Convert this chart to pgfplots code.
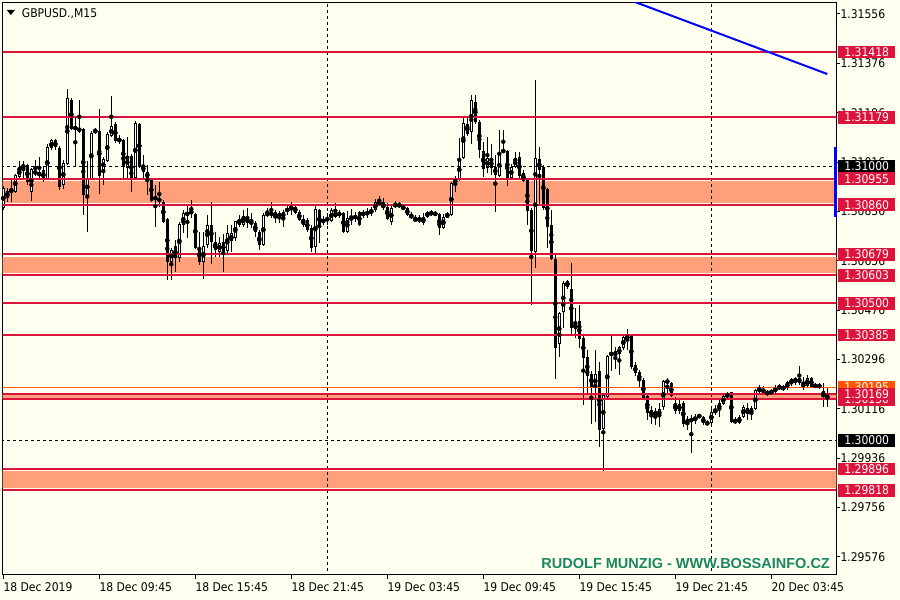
\documentclass[border=0pt]{standalone}
\usepackage{pgfplots}
\pgfplotsset{compat=1.18}
\usepackage{pgfplotstable}
\usepackage{fontspec}
\usetikzlibrary{backgrounds,calc}
\newfontfamily\mtfont{DejaVu Sans Condensed}
\newfontfamily\wmfont{Liberation Sans}
\newcommand{\mt}{\mtfont\fontsize{12pt}{14pt}\selectfont}
\definecolor{ivory}{RGB}{255,255,240}
\definecolor{crim}{RGB}{220,20,60}
\definecolor{zone}{RGB}{255,160,122}
\definecolor{orng}{RGB}{255,85,0}
\definecolor{wm}{RGB}{25,135,95}

\pgfplotstableread{
i o h l c
0 1.30848 1.30928 1.30841 1.30921
1 1.30885 1.30921 1.30870 1.30910
2 1.30914 1.30950 1.30870 1.30914
3 1.30907 1.30972 1.30903 1.30969
4 1.30961 1.31023 1.30958 1.30997
5 1.30997 1.31023 1.30961 1.31005
6 1.31005 1.31012 1.30935 1.30943
7 1.30907 1.30994 1.30873 1.30990
8 1.30983 1.31023 1.30965 1.30976
9 1.30965 1.31034 1.30958 1.30980
10 1.30987 1.30997 1.30943 1.30950
11 1.30954 1.31081 1.30950 1.31070
12 1.31067 1.31100 1.31060 1.31096
13 1.31096 1.31100 1.31063 1.31070
14 1.31067 1.31074 1.30914 1.30924
15 1.30932 1.31023 1.30917 1.31012
16 1.31008 1.31282 1.31005 1.31250
17 1.31242 1.31250 1.31133 1.31136
18 1.31136 1.31180 1.30997 1.31147
19 1.31140 1.31242 1.31122 1.31129
20 1.31136 1.31140 1.30823 1.30896
21 1.30892 1.31019 1.30761 1.30958
22 1.30954 1.31129 1.30950 1.31122
23 1.31126 1.31140 1.31118 1.31133
24 1.31129 1.31209 1.30899 1.30965
25 1.30987 1.31034 1.30932 1.31027
26 1.31019 1.31126 1.31016 1.31118
27 1.31111 1.31257 1.31107 1.31147
28 1.31154 1.31162 1.31085 1.31092
29 1.31104 1.31115 1.31081 1.31089
30 1.31096 1.31100 1.30958 1.30997
31 1.30994 1.31107 1.30958 1.31038
32 1.31038 1.31045 1.30907 1.30958
33 1.30958 1.31165 1.30954 1.31158
34 1.31154 1.31158 1.30994 1.30997
35 1.31005 1.31042 1.30958 1.30980
36 1.30980 1.31005 1.30896 1.30958
37 1.30954 1.30958 1.30873 1.30877
38 1.30877 1.30932 1.30778 1.30892
39 1.30885 1.30946 1.30855 1.30873
40 1.30870 1.30877 1.30793 1.30797
41 1.30808 1.30815 1.30589 1.30654
42 1.30651 1.30702 1.30586 1.30698
43 1.30709 1.30731 1.30615 1.30666
44 1.30666 1.30797 1.30651 1.30793
45 1.30786 1.30841 1.30757 1.30830
46 1.30830 1.30855 1.30739 1.30826
47 1.30834 1.30877 1.30812 1.30834
48 1.30826 1.30830 1.30698 1.30702
49 1.30702 1.30761 1.30640 1.30651
50 1.30651 1.30761 1.30589 1.30709
51 1.30716 1.30823 1.30705 1.30789
52 1.30786 1.30870 1.30647 1.30724
53 1.30724 1.30761 1.30669 1.30695
54 1.30688 1.30742 1.30669 1.30720
55 1.30724 1.30753 1.30615 1.30688
56 1.30691 1.30786 1.30677 1.30757
57 1.30727 1.30789 1.30688 1.30757
58 1.30739 1.30804 1.30731 1.30800
59 1.30808 1.30823 1.30778 1.30786
60 1.30786 1.30841 1.30778 1.30819
61 1.30815 1.30851 1.30775 1.30793
62 1.30793 1.30830 1.30775 1.30800
63 1.30793 1.30800 1.30742 1.30761
64 1.30761 1.30768 1.30695 1.30713
65 1.30713 1.30830 1.30709 1.30823
66 1.30830 1.30851 1.30815 1.30823
67 1.30834 1.30873 1.30812 1.30823
68 1.30815 1.30841 1.30793 1.30834
69 1.30830 1.30837 1.30793 1.30812
70 1.30812 1.30841 1.30782 1.30834
71 1.30834 1.30862 1.30823 1.30851
72 1.30855 1.30870 1.30823 1.30844
73 1.30855 1.30862 1.30826 1.30830
74 1.30834 1.30841 1.30800 1.30804
75 1.30808 1.30823 1.30782 1.30786
76 1.30804 1.30812 1.30761 1.30768
77 1.30775 1.30786 1.30688 1.30705
78 1.30705 1.30859 1.30684 1.30844
79 1.30841 1.30844 1.30720 1.30775
80 1.30797 1.30819 1.30786 1.30808
81 1.30804 1.30830 1.30786 1.30812
82 1.30800 1.30848 1.30797 1.30841
83 1.30834 1.30866 1.30812 1.30815
84 1.30834 1.30841 1.30812 1.30819
85 1.30830 1.30834 1.30757 1.30761
86 1.30761 1.30837 1.30757 1.30812
87 1.30812 1.30844 1.30786 1.30812
88 1.30812 1.30834 1.30797 1.30819
89 1.30834 1.30837 1.30782 1.30786
90 1.30823 1.30841 1.30812 1.30834
91 1.30826 1.30848 1.30812 1.30834
92 1.30834 1.30851 1.30819 1.30841
93 1.30841 1.30881 1.30834 1.30870
94 1.30873 1.30892 1.30859 1.30862
95 1.30862 1.30885 1.30841 1.30848
96 1.30855 1.30866 1.30804 1.30808
97 1.30797 1.30855 1.30789 1.30848
98 1.30855 1.30873 1.30848 1.30862
99 1.30862 1.30870 1.30848 1.30855
100 1.30855 1.30862 1.30841 1.30844
101 1.30848 1.30851 1.30819 1.30823
102 1.30823 1.30834 1.30808 1.30815
103 1.30812 1.30823 1.30797 1.30800
104 1.30800 1.30823 1.30793 1.30812
105 1.30793 1.30830 1.30786 1.30815
106 1.30815 1.30837 1.30812 1.30834
107 1.30826 1.30841 1.30819 1.30834
108 1.30834 1.30837 1.30819 1.30823
109 1.30826 1.30830 1.30750 1.30775
110 1.30775 1.30826 1.30771 1.30815
111 1.30815 1.30834 1.30812 1.30830
112 1.30823 1.30943 1.30819 1.30939
113 1.30935 1.30965 1.30907 1.30958
114 1.30950 1.31104 1.30946 1.31027
115 1.31031 1.31177 1.31027 1.31158
116 1.31154 1.31177 1.31111 1.31118
117 1.31126 1.31261 1.31081 1.31242
118 1.31235 1.31261 1.31154 1.31162
119 1.31165 1.31169 1.31031 1.31060
120 1.31056 1.31089 1.30961 1.30990
121 1.30994 1.31107 1.30976 1.31031
122 1.31027 1.31081 1.30969 1.30994
123 1.30997 1.31042 1.30834 1.30969
124 1.30965 1.31133 1.30961 1.31045
125 1.31053 1.31133 1.31049 1.31060
126 1.31056 1.31060 1.30928 1.30958
127 1.30958 1.31008 1.30950 1.31001
128 1.30997 1.31053 1.30994 1.31031
129 1.31034 1.31053 1.30950 1.30965
130 1.30976 1.30987 1.30943 1.30946
131 1.30950 1.30958 1.30786 1.30837
132 1.30841 1.30848 1.30495 1.30691
133 1.30688 1.31315 1.30629 1.31031
134 1.31027 1.31070 1.30862 1.30987
135 1.30997 1.31008 1.30841 1.30848
136 1.30917 1.30924 1.30702 1.30778
137 1.30786 1.30841 1.30658 1.30662
138 1.30662 1.30677 1.30224 1.30338
139 1.30352 1.30469 1.30304 1.30465
140 1.30469 1.30582 1.30411 1.30575
141 1.30582 1.30586 1.30553 1.30560
142 1.30556 1.30647 1.30381 1.30411
143 1.30407 1.30484 1.30374 1.30429
144 1.30436 1.30495 1.30338 1.30370
145 1.30374 1.30381 1.30130 1.30301
146 1.30304 1.30330 1.30169 1.30235
147 1.30242 1.30253 1.30060 1.30195
148 1.30192 1.30330 1.30068 1.30242
149 1.30253 1.30287 1.29976 1.30038
150 1.30042 1.30173 1.29888 1.30166
151 1.30158 1.30312 1.30155 1.30308
152 1.30312 1.30381 1.30253 1.30323
153 1.30308 1.30341 1.30261 1.30327
154 1.30315 1.30345 1.30239 1.30341
155 1.30338 1.30389 1.30330 1.30378
156 1.30374 1.30407 1.30330 1.30378
157 1.30385 1.30389 1.30264 1.30268
158 1.30276 1.30287 1.30235 1.30246
159 1.30250 1.30257 1.30192 1.30217
160 1.30221 1.30228 1.30148 1.30155
161 1.30162 1.30166 1.30075 1.30100
162 1.30111 1.30126 1.30060 1.30093
163 1.30107 1.30119 1.30057 1.30089
164 1.30089 1.30137 1.30049 1.30115
165 1.30122 1.30221 1.30111 1.30217
166 1.30221 1.30228 1.30166 1.30210
167 1.30210 1.30213 1.30158 1.30162
168 1.30137 1.30158 1.30097 1.30107
169 1.30133 1.30148 1.30097 1.30107
170 1.30137 1.30144 1.30049 1.30060
171 1.30060 1.30089 1.30038 1.30078
172 1.30068 1.30093 1.29954 1.30082
173 1.30075 1.30097 1.30060 1.30086
174 1.30086 1.30097 1.30082 1.30093
175 1.30086 1.30089 1.30057 1.30064
176 1.30068 1.30075 1.30053 1.30060
177 1.30064 1.30115 1.30057 1.30107
178 1.30100 1.30130 1.30093 1.30115
179 1.30111 1.30148 1.30086 1.30137
180 1.30133 1.30169 1.30130 1.30162
181 1.30158 1.30177 1.30151 1.30173
182 1.30177 1.30177 1.30064 1.30068
183 1.30078 1.30086 1.30060 1.30064
184 1.30064 1.30093 1.30060 1.30086
185 1.30089 1.30130 1.30082 1.30122
186 1.30119 1.30137 1.30075 1.30097
187 1.30097 1.30126 1.30075 1.30119
188 1.30115 1.30188 1.30111 1.30184
189 1.30195 1.30203 1.30173 1.30177
190 1.30188 1.30199 1.30166 1.30177
191 1.30177 1.30184 1.30162 1.30169
192 1.30173 1.30188 1.30169 1.30180
193 1.30177 1.30203 1.30169 1.30195
194 1.30192 1.30206 1.30184 1.30199
195 1.30188 1.30203 1.30180 1.30195
196 1.30192 1.30217 1.30184 1.30213
197 1.30206 1.30228 1.30199 1.30224
198 1.30213 1.30232 1.30203 1.30228
199 1.30228 1.30272 1.30203 1.30210
200 1.30213 1.30232 1.30184 1.30192
201 1.30199 1.30239 1.30192 1.30228
202 1.30228 1.30235 1.30192 1.30195
203 1.30203 1.30210 1.30192 1.30195
204 1.30203 1.30210 1.30188 1.30195
205 1.30180 1.30210 1.30122 1.30162
206 1.30166 1.30195 1.30122 1.30158
}\candles

\tikzset{plab/.style={anchor=west, inner sep=0pt, minimum width=57pt, minimum height=12.6pt, text=white, font=\mt}}

\begin{document}
\begin{tikzpicture}
\begin{axis}[name=ax, scale only axis, width=833.6pt, height=572.3pt,
  xmin=-0.15, xmax=208.25, ymin=1.295094, ymax=1.315972,
  axis line style={black, line width=1pt},
  tick align=outside, major tick length=4pt, tick style={black, line width=1pt},
  xtick pos=left, xticklabel pos=left, ytick pos=right, yticklabel pos=right,
  xtick={0,24,48,72,96,120,144,168,192},
  xticklabels={18 Dec 2019,18 Dec 09:45,18 Dec 15:45,18 Dec 21:45,19 Dec 03:45,19 Dec 09:45,19 Dec 15:45,19 Dec 21:45,20 Dec 03:45},
  xticklabel style={anchor=north west, inner sep=0pt, font=\mt, yshift=-3pt},
  ytick={1.29576,1.29756,1.29936,1.30116,1.30296,1.30476,1.30656,1.30836,1.31016,1.31196,1.31376,1.31556},
  yticklabels={1.29576,1.29756,1.29936,1.30116,1.30296,1.30476,1.30656,1.30836,1.31016,1.31196,1.31376,1.31556},
  yticklabel style={anchor=west, inner sep=0pt, font=\mt},
  clip=true]
% zones
\addplot[fill=zone, draw=none] coordinates {(-5,1.30947) (215,1.30947) (215,1.30868) (-5,1.30868)} -- cycle;
\addplot[fill=zone, draw=none] coordinates {(-5,1.30671) (215,1.30671) (215,1.30611) (-5,1.30611)} -- cycle;
\addplot[fill=zone, draw=none] coordinates {(-5,1.30169) (215,1.30169) (215,1.30150) (-5,1.30150)} -- cycle;
\addplot[fill=zone, draw=none] coordinates {(-5,1.29888) (215,1.29888) (215,1.29826) (-5,1.29826)} -- cycle;
% period separators
\addplot[black, line width=0.8pt, dash pattern=on 3pt off 3pt] coordinates {(81,1.29) (81,1.32)};
\addplot[black, line width=0.8pt, dash pattern=on 3pt off 3pt] coordinates {(177,1.29) (177,1.32)};
% candles: wicks, bodies, white inner for bullish
\addplot[only marks, mark=none, error bars/.cd, y dir=both, y explicit, error mark=none,
  error bar style={draw=black, line width=1pt, solid}]
  table[x=i, y expr={(\thisrow{h}+\thisrow{l})/2}, y error expr={(\thisrow{h}-\thisrow{l})/2}] {\candles};
\addplot[only marks, mark=none, error bars/.cd, y dir=both, y explicit, error mark=none,
  error bar style={draw=black, line width=3pt, solid}]
  table[x=i, y expr={(\thisrow{o}+\thisrow{c})/2}, y error expr={max(abs(\thisrow{o}-\thisrow{c})/2,0.000016)}] {\candles};
\addplot[only marks, mark=none, error bars/.cd, y dir=both, y explicit, error mark=none,
  error bar style={draw=white, line width=1pt, solid}]
  table[x=i, y expr={(\thisrow{o}+\thisrow{c})/2}, y error expr={max((\thisrow{c}-\thisrow{o})/2-0.0000365,0)}] {\candles};
% level lines
\addplot[crim, line width=2pt] coordinates {(-5,1.31418) (215,1.31418)};
\addplot[crim, line width=2pt] coordinates {(-5,1.31179) (215,1.31179)};
\addplot[crim, line width=2pt] coordinates {(-5,1.30955) (215,1.30955)};
\addplot[crim, line width=2pt] coordinates {(-5,1.30860) (215,1.30860)};
\addplot[crim, line width=2pt] coordinates {(-5,1.30679) (215,1.30679)};
\addplot[crim, line width=2pt] coordinates {(-5,1.30603) (215,1.30603)};
\addplot[crim, line width=2pt] coordinates {(-5,1.30500) (215,1.30500)};
\addplot[crim, line width=2pt] coordinates {(-5,1.30385) (215,1.30385)};
\addplot[orng, line width=1pt] coordinates {(-5,1.30195) (215,1.30195)};
\addplot[crim, line width=2pt] coordinates {(-5,1.30169) (215,1.30169)};
\addplot[crim, line width=2pt] coordinates {(-5,1.30150) (215,1.30150)};
\addplot[crim, line width=2pt] coordinates {(-5,1.29896) (215,1.29896)};
\addplot[crim, line width=2pt] coordinates {(-5,1.29818) (215,1.29818)};
\addplot[black, line width=0.8pt, dash pattern=on 3pt off 3pt] coordinates {(-5,1.31000) (215,1.31000)};
\addplot[black, line width=0.8pt, dash pattern=on 3pt off 3pt] coordinates {(-5,1.30000) (215,1.30000)};
% trend line
\addplot[blue, line width=2pt] coordinates {(150,1.31643) (206,1.31337)};
% anchors for price labels
\coordinate (q1) at (axis cs:208.25,1.31418);
\coordinate (q2) at (axis cs:208.25,1.31179);
\coordinate (q3) at (axis cs:208.25,1.31000);
\coordinate (q4) at (axis cs:208.25,1.30955);
\coordinate (q5) at (axis cs:208.25,1.30860);
\coordinate (q6) at (axis cs:208.25,1.30679);
\coordinate (q7) at (axis cs:208.25,1.30603);
\coordinate (q8) at (axis cs:208.25,1.30500);
\coordinate (q9) at (axis cs:208.25,1.30385);
\coordinate (q10) at (axis cs:208.25,1.30195);
\coordinate (q11) at (axis cs:208.25,1.30150);
\coordinate (q12) at (axis cs:208.25,1.30169);
\coordinate (q13) at (axis cs:208.25,1.30000);
\coordinate (q14) at (axis cs:208.25,1.29896);
\coordinate (q15) at (axis cs:208.25,1.29818);
\coordinate (bb1) at (axis cs:208.25,1.31072);
\coordinate (bb2) at (axis cs:208.25,1.30816);
\end{axis}
\begin{scope}[on background layer]
\fill[ivory] ($(ax.south west)+(-2.7pt,-25pt)$) rectangle ($(ax.north east)+(63.7pt,2.7pt)$);
\end{scope}
\node[plab, fill=crim] at ($(q1)+(1.7pt,0)$) {1.31418};
\node[plab, fill=crim] at ($(q2)+(1.7pt,0)$) {1.31179};
\node[plab, fill=black] at ($(q3)+(1.7pt,0)$) {1.31000};
\node[plab, fill=crim] at ($(q4)+(1.7pt,0)$) {1.30955};
\node[plab, fill=crim] at ($(q5)+(1.7pt,0)$) {1.30860};
\node[plab, fill=crim] at ($(q6)+(1.7pt,0)$) {1.30679};
\node[plab, fill=crim] at ($(q7)+(1.7pt,0)$) {1.30603};
\node[plab, fill=crim] at ($(q8)+(1.7pt,0)$) {1.30500};
\node[plab, fill=crim] at ($(q9)+(1.7pt,0)$) {1.30385};
\node[plab, fill=orng] at ($(q10)+(1.7pt,0)$) {1.30195};
\node[plab, fill=crim] at ($(q11)+(1.7pt,0)$) {1.30150};
\node[plab, fill=crim] at ($(q12)+(1.7pt,0)$) {1.30169};
\node[plab, fill=black] at ($(q13)+(1.7pt,0)$) {1.30000};
\node[plab, fill=crim] at ($(q14)+(1.7pt,0)$) {1.29896};
\node[plab, fill=crim] at ($(q15)+(1.7pt,0)$) {1.29818};
\draw[blue, line width=3pt] ($(bb1)+(-0.8pt,0)$) -- ($(bb2)+(-0.8pt,0)$);
\fill[black] ($(ax.north west)+(4pt,-7.3pt)$) -- ($(ax.north west)+(12.3pt,-7.3pt)$) -- ($(ax.north west)+(8.15pt,-12.3pt)$) -- cycle;
\node[anchor=base west, inner sep=0pt, font=\mt] at ($(ax.north west)+(19pt,-14.4pt)$) {GBPUSD.,M15};
\node[anchor=base east, inner sep=0pt, text=wm, font=\wmfont\bfseries\fontsize{14.5pt}{16pt}\selectfont] at ($(ax.south east)+(-6.3pt,6pt)$) {RUDOLF MUNZIG - WWW.BOSSAINFO.CZ};
\pgfresetboundingbox
\path[use as bounding box] ($(ax.south west)+(-2.7pt,-25pt)$) rectangle ($(ax.north east)+(63.7pt,2.7pt)$);
\end{tikzpicture}
\end{document}
